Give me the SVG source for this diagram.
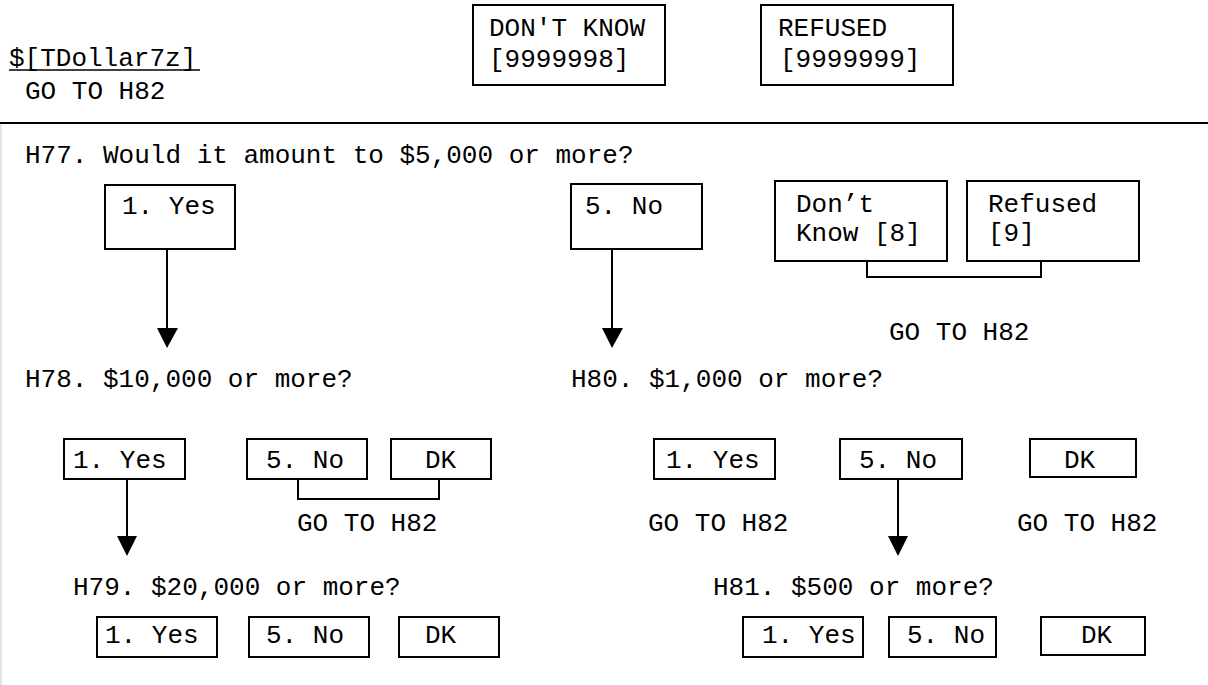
<svg xmlns="http://www.w3.org/2000/svg" width="1208" height="685" viewBox="0 0 1208 685">
<style>
text{font-family:"Liberation Mono","Courier New",monospace;font-size:26px;fill:#000}
.box{fill:#fff;stroke:#000;stroke-width:2}
.ln{fill:none;stroke:#000;stroke-width:2}
.ah{fill:#000;stroke:none}
</style>
<rect x="0" y="0" width="1208" height="685" fill="#fff"/>

<g id="header">
<text x="9" y="66">$[TDollar7z]</text>
<line x1="9" y1="70" x2="200" y2="70" stroke="#000" stroke-width="1.5"/>
<text x="25" y="99">GO TO H82</text>
</g>
<g id="dk-top"><rect class="box" x="473" y="5" width="192" height="80"/><text x="489" y="36">DON'T KNOW</text><text x="489" y="67">[9999998]</text></g>
<g id="ref-top"><rect class="box" x="761" y="5" width="192" height="80"/><text x="778" y="36"> REFUSED</text><text x="780" y="67">[9999999]</text></g>
<line x1="0" y1="123" x2="1208" y2="123" stroke="#000" stroke-width="2"/>
<line x1="1" y1="124" x2="1" y2="685" stroke="#e4e4e4" stroke-width="2"/>

<g id="connectors">
<line class="ln" x1="167" y1="249" x2="167" y2="330"/>
<polygon class="ah" points="157,328 178,328 167,348"/>
<line class="ln" x1="612" y1="249" x2="612" y2="330"/>
<polygon class="ah" points="602,328 623,328 612,348"/>
<path class="ln" d="M867,261 V277 H1041 V261"/>
<path class="ln" d="M298,479 V499 H439 V479"/>
<line class="ln" x1="127" y1="479" x2="127" y2="538"/>
<polygon class="ah" points="117,536 137,536 127,556"/>
<line class="ln" x1="898" y1="479" x2="898" y2="538"/>
<polygon class="ah" points="888,536 908,536 898,556"/>
</g>

<g id="h77"><text x="25" y="163">H77. Would it amount to $5,000 or more?</text></g>
<g id="h77-yes"><rect class="box" x="105" y="185" width="130" height="64"/><text x="122" y="214">1. Yes</text></g>
<g id="h77-no"><rect class="box" x="571" y="184" width="131" height="65"/><text x="585" y="214">5. No</text></g>
<g id="h77-dk"><rect class="box" x="775" y="181" width="172" height="80"/><text x="796" y="212">Don’t</text><text x="796" y="241">Know [8]</text></g>
<g id="h77-ref"><rect class="box" x="967" y="181" width="172" height="80"/><text x="988" y="212">Refused</text><text x="988" y="241">[9]</text></g>
<g id="h77-goto"><text x="889" y="340">GO TO H82</text></g>

<g id="h78"><text x="25" y="387">H78. $10,000 or more?</text></g>
<g id="h78-yes"><rect class="box" x="64" y="439" width="121" height="40"/><text x="73" y="468">1. Yes</text></g>
<g id="h78-no"><rect class="box" x="247" y="439" width="120" height="40"/><text x="266" y="468">5. No</text></g>
<g id="h78-dk"><rect class="box" x="391" y="439" width="100" height="40"/><text x="425" y="468">DK</text></g>
<g id="h78-goto"><text x="297" y="531">GO TO H82</text></g>

<g id="h79"><text x="73" y="595">H79. $20,000 or more?</text></g>
<g id="h79-yes"><rect class="box" x="97" y="617" width="120" height="40"/><text x="105" y="643">1. Yes</text></g>
<g id="h79-no"><rect class="box" x="249" y="617" width="120" height="40"/><text x="266" y="643">5. No</text></g>
<g id="h79-dk"><rect class="box" x="399" y="617" width="100" height="40"/><text x="425" y="643">DK</text></g>

<g id="h80"><text x="571" y="387">H80. $1,000 or more?</text></g>
<g id="h80-yes"><rect class="box" x="654" y="439" width="121" height="40"/><text x="666" y="468">1. Yes</text></g>
<g id="h80-no"><rect class="box" x="840" y="439" width="122" height="40"/><text x="859" y="468">5. No</text></g>
<g id="h80-dk"><rect class="box" x="1030" y="439" width="106" height="38"/><text x="1064" y="468">DK</text></g>
<g id="h80-goto1"><text x="648" y="531">GO TO H82</text></g>
<g id="h80-goto2"><text x="1017" y="531">GO TO H82</text></g>

<g id="h81"><text x="713" y="595">H81. $500 or more?</text></g>
<g id="h81-yes"><rect class="box" x="743" y="617" width="120" height="40"/><text x="762" y="643">1. Yes</text></g>
<g id="h81-no"><rect class="box" x="889" y="617" width="107" height="40"/><text x="907" y="643">5. No</text></g>
<g id="h81-dk"><rect class="box" x="1041" y="617" width="104" height="38"/><text x="1081" y="643">DK</text></g>
</svg>
